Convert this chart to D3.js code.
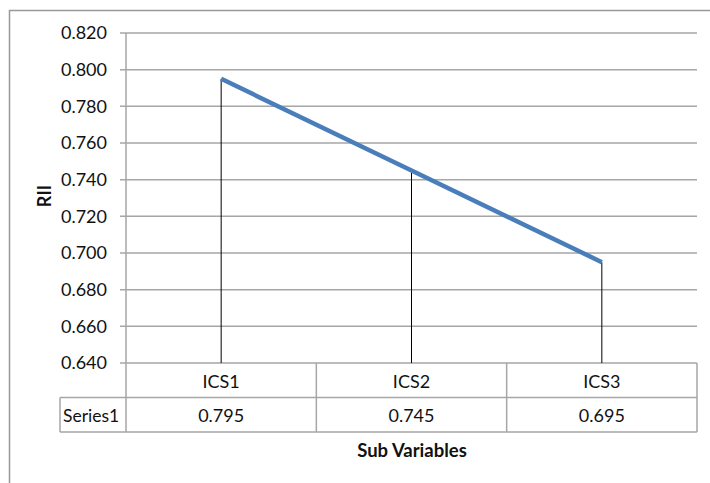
<!DOCTYPE html>
<html><head><meta charset="utf-8">
<script src="https://cdn.jsdelivr.net/npm/d3@7"></script>
<style>body{margin:0;background:#fff}svg{display:block}text{font-family:Lato,"Open Sans",sans-serif}</style>
</head><body><svg id="c" width="710" height="483"></svg>
<script>
const categories = ["ICS1","ICS2","ICS3"];
const seriesName = "Series1";
const values = [0.795, 0.745, 0.695];
const yTicks = [0.640,0.660,0.680,0.700,0.720,0.740,0.760,0.780,0.800,0.820];
const yTitle = "RII";
const xTitle = "Sub Variables";

const svg = d3.select("#c");
const L = 126, R = 697, T = 33, B = 363;
const rowH = 34.5;
const y = d3.scaleLinear().domain([0.640,0.820]).range([B,T]);
const x = d3.scaleBand().domain(categories).range([L,R]);
const fs = 18;

// chart border
svg.append("path").attr("d","M9.5,483 V10.5 H710").attr("fill","none").attr("stroke","#999").attr("stroke-width",1.5);

// gridlines
svg.append("g").selectAll("line").data(yTicks).join("line")
  .attr("x1",L-6).attr("x2",R).attr("y1",d=>y(d)).attr("y2",d=>y(d))
  .attr("stroke","#a6a6a6").attr("stroke-width",1.5);
// y axis labels
svg.append("g").selectAll("text").data(yTicks).join("text")
  .attr("x",107).attr("y",d=>y(d)).attr("dy","0.35em").attr("text-anchor","end")
  .attr("font-size",fs).attr("fill","#111").text(d=>d3.format(".3f")(d));
// y axis line
svg.append("line").attr("x1",L).attr("x2",L).attr("y1",T).attr("y2",B+rowH).attr("stroke","#a6a6a6").attr("stroke-width",1.5);

// table
const tb = svg.append("g");
const row2T = B+rowH, row2B = B+2*rowH;
tb.append("line").attr("x1",60).attr("x2",R).attr("y1",row2T).attr("y2",row2T).attr("stroke","#a6a6a6").attr("stroke-width",1.5);
tb.append("line").attr("x1",60).attr("x2",R).attr("y1",row2B).attr("y2",row2B).attr("stroke","#a6a6a6").attr("stroke-width",1.5);
tb.append("line").attr("x1",60).attr("x2",60).attr("y1",row2T).attr("y2",row2B).attr("stroke","#a6a6a6").attr("stroke-width",1.5);
tb.append("line").attr("x1",L).attr("x2",L).attr("y1",row2T).attr("y2",row2B).attr("stroke","#a6a6a6").attr("stroke-width",1.5);
tb.selectAll("line.v").data(categories).join("line").attr("class","v")
  .attr("x1",d=>x(d)+x.bandwidth()).attr("x2",d=>x(d)+x.bandwidth())
  .attr("y1",B).attr("y2",row2B).attr("stroke","#a6a6a6").attr("stroke-width",1.5);
tb.selectAll("text.h").data(categories).join("text").attr("class","h")
  .attr("x",d=>x(d)+x.bandwidth()/2).attr("y",B+rowH/2+1).attr("dy","0.35em")
  .attr("text-anchor","middle").attr("font-size",fs).attr("fill","#111").text(d=>d);
tb.selectAll("text.val").data(values).join("text").attr("class","val")
  .attr("x",(d,i)=>x(categories[i])+x.bandwidth()/2).attr("y",row2T+rowH/2+1).attr("dy","0.35em")
  .attr("text-anchor","middle").attr("font-size",fs).attr("fill","#111").text(d=>d3.format(".3f")(d));
tb.append("text").attr("x",63).attr("y",row2T+rowH/2+1).attr("dy","0.35em")
  .attr("font-size",fs-0.5).attr("fill","#111").text(seriesName);

// drop lines
svg.append("g").selectAll("line").data(values).join("line")
  .attr("x1",(d,i)=>x(categories[i])+x.bandwidth()/2).attr("x2",(d,i)=>x(categories[i])+x.bandwidth()/2)
  .attr("y1",d=>y(d)).attr("y2",B).attr("stroke","#000").attr("stroke-width",1);

// series line
const line = d3.line().x((d,i)=>x(categories[i])+x.bandwidth()/2).y(d=>y(d));
svg.append("path").datum(values).attr("d",line).attr("fill","none")
  .attr("stroke","#4a7ebb").attr("stroke-width",4.5);

// titles
svg.append("text").attr("transform","translate(45,196) rotate(-90)").attr("text-anchor","middle")
  .attr("dy","0.35em").attr("font-size",18).attr("font-weight","bold").attr("fill","#111").text(yTitle);
svg.append("text").attr("x",412).attr("y",451).attr("dy","0.35em").attr("text-anchor","middle")
  .attr("font-size",18.5).attr("font-weight","bold").attr("fill","#111").text(xTitle);
</script></body></html>
